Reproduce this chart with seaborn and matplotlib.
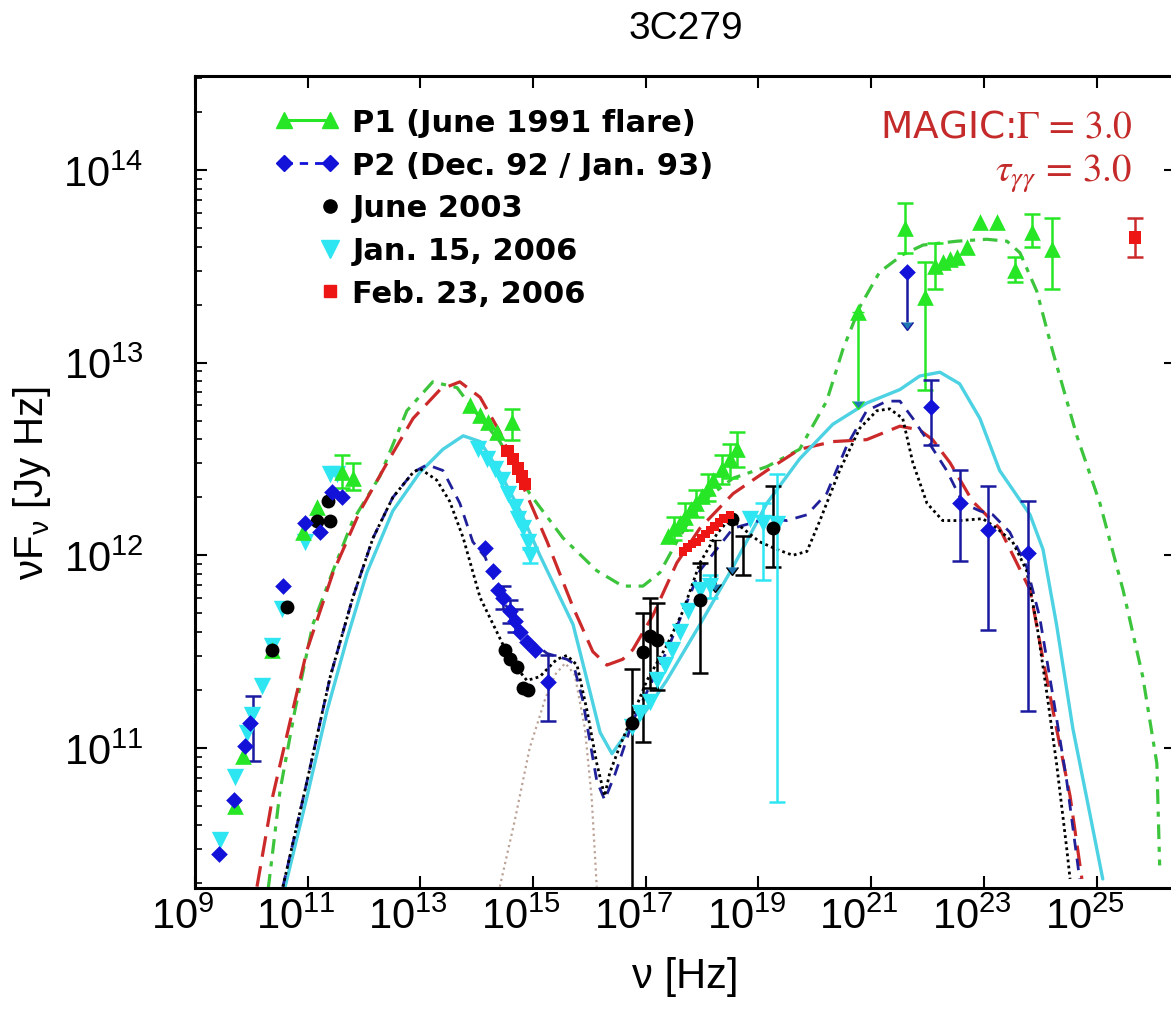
import numpy as np
import matplotlib
matplotlib.use("Agg")
import matplotlib.pyplot as plt
import matplotlib.transforms as mtransforms
import seaborn as sns
from matplotlib.lines import Line2D
from matplotlib.legend_handler import HandlerLine2D
from matplotlib.ticker import FixedLocator, NullLocator, LogLocator

# ---------------- data (log10 nu [Hz], log10 nuF_nu [Jy Hz]) ----------------
# P1 (June 1991 flare) - green triangles
p1_nu = [9.71, 9.85, 10.37, 10.92, 11.16, 11.61, 11.80,
         13.88, 14.06, 14.20, 14.36, 14.62,
         17.40, 17.50, 17.60, 17.70, 17.80, 17.90, 18.00, 18.10, 18.20, 18.35, 18.50, 18.62,
         20.76, 21.60, 21.95, 22.13, 22.27, 22.40, 22.52, 22.70, 22.93, 23.23, 23.55, 23.85, 24.21]
p1_f = [10.70, 10.96, 11.51, 12.12, 12.25, 12.43, 12.40,
        12.78, 12.73, 12.69, 12.64, 12.69,
        12.10, 12.14, 12.17, 12.20, 12.24, 12.27, 12.31, 12.35, 12.39, 12.45, 12.50, 12.55,
        13.26, 13.70, 13.34, 13.50, 13.52, 13.54, 13.55, 13.60, 13.73, 13.73, 13.48, 13.68, 13.59]
p1_err_nu = [11.61, 11.80, 14.62, 17.50, 17.70, 17.90, 18.10, 18.35, 18.50, 18.62,
             21.60, 21.95, 22.13, 23.55, 23.85, 24.21]
p1_err_f = [12.43, 12.40, 12.69, 12.14, 12.20, 12.27, 12.35, 12.45, 12.50, 12.55,
            13.70, 13.34, 13.50, 13.48, 13.68, 13.59]
p1_err_lo = [12.35, 12.34, 12.60, 12.08, 12.13, 12.20, 12.28, 12.37, 12.40, 12.46,
             13.57, 12.86, 13.38, 13.42, 13.60, 13.38]
p1_err_hi = [12.52, 12.48, 12.76, 12.20, 12.27, 12.34, 12.42, 12.52, 12.58, 12.64,
             13.83, 13.52, 13.62, 13.55, 13.77, 13.75]
p1_ul_nu = [20.76]
p1_ul_f = [13.26]
p1_ul_to = [12.80]

# P2 (Dec. 92 / Jan. 93) - blue diamonds
p2_nu = [9.43, 9.69, 9.89, 9.98, 10.56, 10.95, 11.22, 11.43, 11.61,
         14.15, 14.29, 14.38, 14.46, 14.59, 14.68, 14.77, 14.89, 15.03, 15.26,
         21.63, 22.06, 22.58, 23.07, 23.78]
p2_f = [10.45, 10.73, 11.01, 11.13, 11.84, 12.17, 12.12, 12.33, 12.30,
        12.04, 11.92, 11.82, 11.78, 11.71, 11.66, 11.60, 11.55, 11.51, 11.34,
        13.47, 12.77, 12.27, 12.13, 12.01]
p2_err_nu = [10.03, 14.46, 14.59, 14.68, 15.26, 22.06, 22.58, 23.07, 23.78]
p2_err_f = [11.10, 11.78, 11.71, 11.66, 11.34, 12.77, 12.27, 12.13, 12.01]
p2_err_lo = [10.93, 11.72, 11.65, 11.60, 11.14, 12.57, 11.97, 11.61, 11.19]
p2_err_hi = [11.27, 11.84, 11.77, 11.72, 11.48, 12.91, 12.44, 12.36, 12.28]
p2_ul_nu = [21.63]
p2_ul_f = [13.47]
p2_ul_to = [13.21]

# June 2003 - black circles
j03_nu = [10.37, 10.63, 11.16, 11.40, 11.36,
          14.50, 14.59, 14.71, 14.82, 14.91,
          16.75, 16.95, 17.07, 17.20, 17.96, 18.53, 19.26]
j03_f = [11.51, 11.73, 12.18, 12.18, 12.28,
         11.51, 11.46, 11.42, 11.31, 11.30,
         11.13, 11.50, 11.58, 11.56, 11.77, 12.19, 12.14]
j03_err_nu = [16.75, 16.95, 17.07, 17.20, 17.96, 18.72, 19.26]
j03_err_f = [11.13, 11.50, 11.58, 11.56, 11.77, 12.00, 12.14]
j03_err_lo = [9.90, 11.03, 11.31, 11.30, 11.39, 11.90, 11.94]
j03_err_hi = [11.41, 11.70, 11.78, 11.75, 11.96, 12.10, 12.36]
j03_ul_nu = [18.23, 18.53]
j03_ul_f = [12.08, 12.19]
j03_ul_to = [11.85, 11.94]

# Jan. 15, 2006 - cyan down triangles
jan06_nu = [9.44, 9.71, 9.92, 10.01, 10.19, 10.37, 10.54, 10.95, 11.40, 11.52,
            14.02, 14.18, 14.32, 14.45, 14.55, 14.68, 14.73, 14.82, 14.91, 14.94,
            16.75, 16.90, 17.07, 17.20, 17.34, 17.46, 17.61, 17.75, 17.96, 18.14,
            18.85, 19.08, 19.33]
jan06_f = [10.52, 10.85, 11.08, 11.17, 11.32, 11.53, 11.72, 12.07, 12.42, 12.42,
           12.55, 12.50, 12.45, 12.39, 12.32, 12.25, 12.19, 12.14, 12.07, 12.00,
           11.11, 11.18, 11.24, 11.35, 11.43, 11.51, 11.60, 11.71, 11.82, 11.84,
           12.19, 12.17, 12.16]
jan06_err_nu = [14.94, 18.14, 19.08, 19.33]
jan06_err_f = [12.00, 11.84, 12.17, 12.16]
jan06_err_lo = [11.96, 11.78, 11.87, 10.72]
jan06_err_hi = [12.03, 11.90, 12.27, 12.42]

# Feb. 23, 2006 - red squares (optical, X-ray, MAGIC)
feb06_nu = [14.55, 14.64, 14.73, 14.80, 14.86,
            17.66, 17.74, 17.82, 17.90, 17.98, 18.06, 18.14, 18.22, 18.30, 18.38, 18.49,
            25.68]
feb06_f = [12.54, 12.50, 12.45, 12.41, 12.37,
           12.02, 12.04, 12.06, 12.07, 12.09, 12.11, 12.13, 12.15, 12.17, 12.19, 12.21,
           13.65]
feb06_ms = [9, 9, 9, 9, 9,
            6, 6, 6, 6, 6, 6, 6, 6, 6, 6, 6,
            9]
feb06_err_nu = [25.68]
feb06_err_f = [13.65]
feb06_err_lo = [13.55]
feb06_err_hi = [13.75]

# model curves
mod_p1_nu = [10.30, 10.51, 10.77, 11.09, 11.45, 11.80, 12.28, 12.76, 13.22, 13.65, 13.93, 14.41,
             14.94, 15.53, 16.13, 16.59, 16.95, 17.25, 17.55, 17.96, 18.55, 19.15, 19.73, 20.21,
             20.50, 20.80, 21.15, 21.56, 21.92, 22.52, 23.05, 23.41, 23.64, 23.94, 24.22, 24.65,
             25.06, 25.47, 25.82, 26.07, 26.12]
mod_p1_f = [10.27, 10.78, 11.19, 11.64, 11.92, 12.18, 12.41, 12.75, 12.90, 12.87, 12.76, 12.59,
            12.32, 12.09, 11.92, 11.84, 11.84, 11.91, 12.07, 12.27, 12.40, 12.46, 12.55, 12.80,
            13.07, 13.29, 13.47, 13.56, 13.61, 13.63, 13.64, 13.63, 13.57, 13.37, 13.06, 12.62,
            12.27, 11.82, 11.37, 10.92, 10.39]

mod_feb06_nu = [10.10, 10.38, 10.69, 10.99, 11.45, 11.93, 12.41, 12.87, 13.35, 13.70, 14.06, 14.41,
                14.82, 15.25, 15.71, 16.06, 16.31, 16.59, 16.77, 17.13, 17.55, 17.96, 18.55, 19.15,
                19.73, 20.32, 20.92, 21.51, 21.86, 22.09, 22.40, 22.80, 23.28, 23.82, 24.05, 24.29,
                24.53, 24.74]
mod_feb06_f = [10.28, 10.75, 11.14, 11.51, 11.91, 12.23, 12.48, 12.71, 12.86, 12.90, 12.82, 12.64,
               12.36, 12.07, 11.73, 11.50, 11.43, 11.46, 11.51, 11.69, 11.96, 12.14, 12.32, 12.44,
               12.55, 12.59, 12.60, 12.67, 12.65, 12.60, 12.48, 12.28, 12.14, 11.82, 11.46, 11.10,
               10.75, 10.32]

mod_jan06_nu = [10.60, 10.99, 11.34, 11.70, 12.05, 12.51, 12.99, 13.40, 13.76, 14.06, 14.41, 14.77,
                15.12, 15.48, 15.71, 15.96, 16.19, 16.40, 16.67, 16.95, 17.37, 17.96, 18.55, 19.15,
                19.73, 20.32, 20.92, 21.51, 21.86, 22.22, 22.57, 22.93, 23.28, 23.82, 24.05, 24.29,
                24.58, 24.88, 25.11]
mod_jan06_f = [10.28, 10.75, 11.19, 11.57, 11.91, 12.23, 12.43, 12.55, 12.62, 12.59, 12.43, 12.23,
               12.00, 11.78, 11.64, 11.35, 11.08, 10.97, 11.08, 11.17, 11.35, 11.64, 11.94, 12.27,
               12.50, 12.68, 12.79, 12.86, 12.93, 12.95, 12.89, 12.71, 12.44, 12.21, 12.03, 11.64,
               11.10, 10.66, 10.32]

mod_j03_nu = [10.56, 10.99, 11.40, 11.80, 12.16, 12.51, 12.87, 12.99, 13.29, 13.52, 13.76, 14.06,
              14.36, 14.59, 14.89, 15.12, 15.42, 15.60, 15.78, 15.96, 16.13, 16.27, 16.36, 16.54,
              16.77, 17.02, 17.37, 17.66, 17.96, 18.26, 18.49, 18.72, 19.02, 19.33, 19.61, 19.86,
              20.09, 20.44, 20.80, 21.10, 21.33, 21.56, 21.74, 21.99, 22.27, 22.57, 22.98, 23.23,
              23.51, 23.76, 23.94, 24.12, 24.29, 24.47, 24.53]
mod_j03_f = [10.28, 10.83, 11.37, 11.78, 12.09, 12.30, 12.43, 12.45, 12.39, 12.28, 12.09, 11.78,
             11.60, 11.46, 11.35, 11.37, 11.46, 11.48, 11.43, 11.19, 10.92, 10.75, 10.87, 11.01,
             11.17, 11.35, 11.53, 11.71, 11.96, 12.11, 12.19, 12.14, 12.07, 12.03, 12.00, 12.02,
             12.18, 12.44, 12.66, 12.75, 12.76, 12.71, 12.48, 12.27, 12.18, 12.18, 12.19, 12.14,
             12.07, 11.92, 11.64, 11.28, 10.92, 10.48, 10.32]

mod_p2_nu = [10.56, 10.99, 11.40, 11.80, 12.16, 12.51, 12.87, 13.12, 13.40, 13.70, 13.93, 14.15,
             14.36, 14.59, 14.89, 15.25, 15.60, 15.71, 15.88, 16.13, 16.27, 16.45, 16.77, 17.37,
             17.96, 18.55, 19.15, 19.50, 19.86, 20.21, 20.57, 20.92, 21.28, 21.51, 21.74, 21.99,
             22.34, 22.63, 22.93, 23.16, 23.46, 23.76, 23.99, 24.22, 24.47, 24.70]
mod_p2_f = [10.28, 10.83, 11.37, 11.78, 12.09, 12.30, 12.43, 12.47, 12.44, 12.27, 12.07, 11.99,
            11.83, 11.70, 11.57, 11.49, 11.46, 11.44, 11.25, 10.83, 10.73, 10.86, 11.14, 11.50,
            11.92, 12.14, 12.19, 12.18, 12.21, 12.32, 12.57, 12.75, 12.80, 12.80, 12.71, 12.60,
            12.44, 12.27, 12.23, 12.21, 12.12, 11.94, 11.68, 11.28, 10.83, 10.32]

mod_disk_nu = [14.41, 14.68, 14.94, 15.21, 15.39, 15.57, 15.74, 15.92, 16.04, 16.13]
mod_disk_f = [10.28, 10.63, 11.00, 11.25, 11.38, 11.44, 11.38, 11.10, 10.74, 10.28]

x_tick_exp = [9, 11, 13, 15, 17, 19, 21, 23, 25]

# ---------------- colours ----------------
GREEN_M = "#26e626"
GREEN_L = "#3cc43c"
BLUE_M = "#1212d8"
BLUE_E = "#1a1aa0"
BLUE_L = "#20209a"
CYAN_M = "#2ee6f2"
CYAN_L = "#4cd2e2"
RED_M = "#ee1515"
RED_L = "#cc2a2a"
TXT_RED = "#c42a2a"
DISK = "#bba398"

sns.set_style("ticks")
plt.rcParams["font.family"] = ["Liberation Sans", "DejaVu Sans"]
plt.rcParams["text.color"] = "black"
plt.rcParams["axes.labelcolor"] = "black"
plt.rcParams["axes.edgecolor"] = "black"
plt.rcParams["xtick.color"] = "black"
plt.rcParams["ytick.color"] = "black"
plt.rcParams["mathtext.fontset"] = "custom"
plt.rcParams["mathtext.rm"] = "Liberation Sans"
plt.rcParams["mathtext.it"] = "Liberation Sans:italic"
plt.rcParams["mathtext.bf"] = "Liberation Sans:bold"

W, H = 1171, 1012
fig = plt.figure(figsize=(W / 100, H / 100), dpi=100)
L, R, T, B = 195, 1176, 76.7, 889
ax = fig.add_axes([L / W, 1 - B / H, (R - L) / W, (B - T) / H])
ax.set_xscale("log")
ax.set_yscale("log")


def p(v):
    return np.power(10.0, np.asarray(v, dtype=float))


# ---------------- model curves ----------------
curve_specs = [
    (mod_disk_nu, mod_disk_f, DISK, 1.6, (0, (1.0, 1.6))),
    (mod_p1_nu, mod_p1_f, GREEN_L, 2.3, (0, (4.6, 2.4, 1.6, 2.4))),
    (mod_feb06_nu, mod_feb06_f, RED_L, 2.3, (0, (6.5, 3.0))),
    (mod_jan06_nu, mod_jan06_f, CYAN_L, 2.4, "-"),
    (mod_p2_nu, mod_p2_f, BLUE_L, 2.0, (0, (4.2, 3.0))),
    (mod_j03_nu, mod_j03_f, "black", 2.0, (0, (1.0, 1.2))),
]
for nu, f, col, lw, ls in curve_specs:
    sns.lineplot(x=p(nu), y=p(f), ax=ax, color=col, linewidth=lw, linestyle=ls,
                 sort=False, estimator=None, errorbar=None, zorder=2)


# ---------------- error bars / upper limits ----------------
def errs(nu, f, lo, hi, col, z=3):
    y = p(f)
    ax.errorbar(p(nu), y, yerr=[y - p(lo), p(hi) - y], fmt="none", ecolor=col,
                elinewidth=1.8, capsize=6, capthick=1.8, zorder=z)


def uls(nu, f, to, col, z=3):
    y = p(f)
    ax.errorbar(p(nu), y, yerr=[y - p(to), np.zeros(len(y))], uplims=True, fmt="none",
                ecolor=col, elinewidth=1.8, capsize=4, zorder=z)


errs(p1_err_nu, p1_err_f, p1_err_lo, p1_err_hi, GREEN_M)
errs(p2_err_nu, p2_err_f, p2_err_lo, p2_err_hi, BLUE_E)
errs(j03_err_nu, j03_err_f, j03_err_lo, j03_err_hi, "black")
errs(jan06_err_nu, jan06_err_f, jan06_err_lo, jan06_err_hi, CYAN_M)
errs(feb06_err_nu, feb06_err_f, feb06_err_lo, feb06_err_hi, RED_L)
uls(p1_ul_nu, p1_ul_f, p1_ul_to, GREEN_M)
uls(p2_ul_nu, p2_ul_f, p2_ul_to, BLUE_E)
uls(j03_ul_nu, j03_ul_f, j03_ul_to, "black")

# ---------------- data points ----------------
point_specs = [
    (jan06_nu, jan06_f, CYAN_M, "v", 12.5),
    (p1_nu, p1_f, GREEN_M, "^", 12),
    (j03_nu, j03_f, "black", "o", 10),
    (p2_nu, p2_f, BLUE_M, "D", 8.5),
]
for nu, f, col, mk, ms in point_specs:
    sns.scatterplot(x=p(nu), y=p(f), ax=ax, color=col, marker=mk, s=ms ** 2,
                    linewidth=0, zorder=4)
sns.scatterplot(x=p(feb06_nu), y=p(feb06_f), ax=ax, color=RED_M, marker="s",
                s=np.asarray(feb06_ms, dtype=float) ** 2, linewidth=0, zorder=4)

# ---------------- axes formatting ----------------
ax.set_xlim(1e9, 10 ** 26.41)
ax.set_ylim(10 ** 10.273, 10 ** 14.489)
ax.xaxis.set_major_locator(FixedLocator(p(x_tick_exp)))
ax.xaxis.set_minor_locator(NullLocator())
ax.yaxis.set_major_locator(LogLocator(base=10, numticks=20))
ax.yaxis.set_minor_locator(LogLocator(base=10, subs=np.arange(2, 10), numticks=20))
ax.tick_params(which="both", direction="in", top=True, right=True, colors="black")
ax.tick_params(which="major", length=8.5, width=1.5, labelsize=30)
ax.tick_params(axis="x", which="major", pad=6)
ax.tick_params(axis="y", which="major", pad=37)
ax.tick_params(axis="y", which="minor", length=5, width=1.2, right=False)
for s in ax.spines.values():
    s.set_linewidth(2.2)
    s.set_color("black")

# shift x tick labels slightly to the left, as in the original figure
shift = mtransforms.ScaledTranslation(-0.12, 0, fig.dpi_scale_trans)
for lab in ax.get_xticklabels():
    lab.set_transform(lab.get_transform() + shift)

ax.set_xlabel("ν [Hz]", fontsize=30, labelpad=14, color="black")
ax.set_ylabel(r"νF$_{\mathregular{ν}}$ [Jy Hz]", fontsize=29, color="black")
ax.yaxis.set_label_coords((53 - L) / (R - L), 0.5)
ax.set_title("3C279", fontsize=28, pad=27, color="black")

# MAGIC annotation
fig.text(1132 / W, 1 - 138 / H, r"MAGIC:$\Gamma\,=\,3.0$", color=TXT_RED, fontsize=27,
         family="DejaVu Sans", ha="right", va="baseline", math_fontfamily="stix")
fig.text(1132 / W, 1 - 182 / H, r"$\tau_{\gamma\gamma}\,=\,3.0$", color=TXT_RED, fontsize=28,
         ha="right", va="baseline", math_fontfamily="stix")


# ---------------- legend ----------------
class RightMarkerHandler(HandlerLine2D):
    def get_xdata(self, legend, xdescent, ydescent, width, height, fontsize):
        pad = self._marker_pad * fontsize
        x = np.array([-xdescent + width - pad])
        return x, x


h1 = Line2D([], [], color=GREEN_M, marker="^", ms=12, lw=2.2, ls="-")
h2 = Line2D([], [], color=BLUE_M, marker="D", ms=8.5, lw=2.0, ls=(0, (3.0, 2.5)))
h3 = Line2D([], [], color="black", marker="o", ms=9.5, ls="none")
h4 = Line2D([], [], color=CYAN_M, marker="v", ms=12.5, ls="none")
h5 = Line2D([], [], color=RED_M, marker="s", ms=8, ls="none")
labels = ["P1 (June 1991 flare)", "P2 (Dec. 92 / Jan. 93)", "June 2003",
          "Jan. 15, 2006", "Feb. 23, 2006"]
leg_fs = 22
leg = ax.legend([h1, h2, h3, h4, h5], labels, loc="upper left",
                bbox_to_anchor=((275 - L) / (R - L), (B - 109) / (B - T)),
                frameon=False, numpoints=2, handlelength=63.7 / (leg_fs * 1.389),
                handletextpad=13.7 / (leg_fs * 1.389),
                labelspacing=0.45, borderpad=0, borderaxespad=0,
                prop={"weight": "bold", "size": leg_fs, "family": "DejaVu Sans"},
                handler_map={h3: RightMarkerHandler(), h4: RightMarkerHandler(),
                             h5: RightMarkerHandler()})
for t in leg.get_texts():
    t.set_color("black")

fig.savefig("out.png", dpi=100)
